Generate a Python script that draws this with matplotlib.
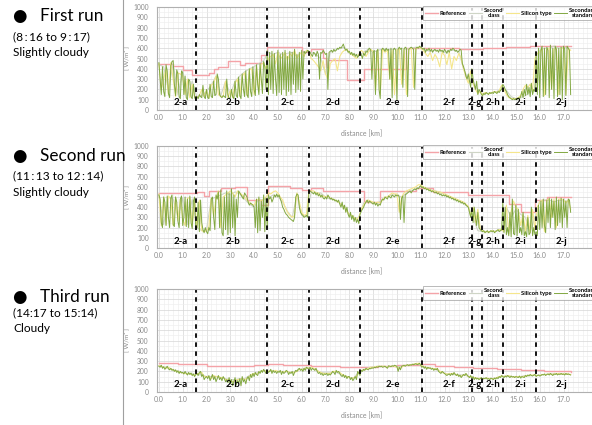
import matplotlib
matplotlib.use("Agg")
import matplotlib.pyplot as plt
import numpy as np
from matplotlib.lines import Line2D
from matplotlib.ticker import MultipleLocator

plt.rcParams['font.family'] = ['Lato', 'DejaVu Sans']

# ---- data (W/m2 against distance in km) ----
# secondary standard pyranometer, every 0.05 km
run1_std = [
    460, 300, 150, 420, 180, 130, 440, 380, 160, 120, 430, 470, 480, 250, 140, 390, 350, 130, 110, 380,
    360, 150, 330, 120, 100, 300, 280, 130, 110, 250, 120, 100, 130, 110, 150, 130, 120, 240, 130, 110,
    200, 120, 110, 250, 130, 120, 280, 140, 150, 350, 300, 150, 130, 120, 140, 130, 120, 300, 150, 110,
    120, 200, 130, 110, 280, 140, 120, 320, 140, 110, 350, 200, 130, 380, 150, 120, 400, 180, 130, 420,
    200, 140, 440, 250, 150, 450, 300, 160, 470, 420, 200, 580, 150, 560, 200, 570, 160, 550, 300, 140,
    580, 170, 540, 150, 560, 200, 580, 140, 520, 180, 570, 150, 560, 250, 590, 170, 540, 200, 560, 180,
    580, 300, 570, 550, 560, 580, 570, 560, 540, 520, 560, 550, 520, 570, 540, 300, 560, 550, 580, 560,
    540, 550, 200, 560, 570, 580, 560, 590, 570, 580, 600, 590, 610, 600, 620, 640, 600, 580, 590, 560,
    570, 540, 560, 530, 550, 520, 540, 510, 530, 560, 540, 500, 550, 530, 570, 560, 590, 600, 580, 300,
    560, 580, 150, 570, 590, 200, 110, 580, 600, 590, 570, 600, 580, 590, 300, 600, 120, 590, 600, 580,
    100, 590, 610, 590, 600, 220, 590, 610, 600, 130, 590, 600, 610, 600, 590, 200, 600, 610, 600, 620,
    610, 600, 590, 600, 560, 590, 580, 600, 570, 590, 560, 580, 590, 570, 580, 560, 590, 570, 580, 560,
    590, 570, 550, 580, 560, 590, 580, 600, 590, 570, 580, 560, 570, 590, 580, 450, 420, 380, 330, 300,
    350, 280, 220, 400, 300, 250, 200, 280, 150, 200, 180, 150, 140, 160, 150, 170, 160, 150, 170, 160,
    170, 160, 180, 170, 160, 180, 170, 190, 200, 250, 230, 200, 180, 150, 130, 120, 110, 100, 110, 100,
    110, 100, 120, 110, 130, 180, 120, 200, 140, 250, 150, 220, 130, 260, 150, 200, 180, 560, 150, 600,
    120, 580, 620, 130, 600, 150, 610, 580, 120, 630, 200, 600, 110, 620, 590, 130, 600, 150, 610, 100,
    620, 590, 140, 620, 600, 580, 150,
]
run2_std = [
    520, 480, 250, 200, 500, 450, 220, 510, 300, 200, 490, 520, 230, 210, 500, 450, 260, 200, 480, 510,
    220, 300, 500, 210, 480, 200, 510, 250, 190, 460, 500, 180, 200, 450, 160, 470, 250, 180, 150, 200,
    160, 140, 200, 170, 480, 500, 300, 180, 520, 480, 550, 200, 570, 150, 120, 500, 180, 560, 130, 540,
    150, 580, 200, 520, 120, 480, 300, 560, 540, 520, 500, 480, 540, 520, 500, 450, 420, 440, 430, 420,
    400, 200, 480, 150, 500, 170, 460, 300, 520, 160, 490, 200, 520, 480, 500, 450, 480, 520, 500, 530,
    500, 520, 480, 450, 400, 380, 350, 330, 320, 300, 290, 280, 270, 260, 300, 500, 530, 520, 400, 350,
    330, 320, 300, 310, 320, 300, 540, 560, 550, 540, 530, 550, 520, 540, 510, 530, 500, 520, 490, 480,
    500, 480, 520, 500, 480, 490, 470, 480, 460, 470, 450, 470, 430, 400, 450, 380, 420, 350, 400, 330,
    300, 350, 280, 320, 260, 300, 250, 280, 240, 330, 360, 380, 400, 430, 450, 470, 440, 460, 450, 440,
    430, 450, 420, 440, 410, 430, 420, 460, 480, 470, 500, 490, 480, 510, 500, 490, 520, 510, 500, 520,
    510, 520, 500, 280, 490, 510, 250, 520, 530, 540, 550, 560, 540, 560, 570, 580, 570, 590, 580, 600,
    610, 590, 600, 580, 590, 570, 580, 560, 570, 550, 560, 550, 540, 550, 530, 540, 520, 530, 510, 520,
    510, 520, 500, 510, 490, 500, 480, 490, 470, 480, 460, 470, 450, 460, 440, 450, 430, 440, 420, 410,
    400, 350, 300, 380, 250, 400, 300, 220, 350, 200, 180, 170, 160, 170, 150, 160, 170, 150, 160, 170,
    160, 170, 150, 160, 170, 180, 160, 170, 180, 450, 150, 400, 130, 200, 120, 350, 110, 480, 140, 130,
    420, 120, 380, 150, 200, 130, 350, 120, 160, 110, 300, 130, 150, 400, 120, 200, 130, 160, 120, 420,
    180, 460, 200, 480, 220, 150, 470, 250, 490, 200, 480, 300, 460, 180, 500, 220, 470, 250, 490, 200,
    480, 300, 460, 200, 480, 470, 350,
]
run3_std = [
    250, 240, 260, 230, 245, 220, 235, 250, 225, 215, 230, 210, 220, 200, 215, 190, 205, 180, 200, 185,
    190, 175, 200, 180, 165, 190, 170, 185, 160, 175, 150, 170, 180, 160, 190, 200, 150, 170, 120, 140,
    150, 130, 160, 110, 140, 170, 120, 150, 100, 130, 160, 120, 140, 110, 150, 130, 100, 120, 90, 140,
    80, 120, 60, 100, 140, 70, 110, 90, 130, 60, 150, 100, 120, 80, 130, 150, 110, 170, 140, 180,
    150, 190, 170, 160, 200, 180, 210, 190, 220, 200, 180, 210, 190, 200, 220, 180, 210, 190, 200, 180,
    200, 190, 210, 170, 200, 180, 190, 210, 200, 170, 190, 180, 200, 160, 190, 210, 200, 220, 230, 210,
    220, 200, 230, 210, 240, 230, 220, 240, 210, 230, 220, 210, 230, 200, 180, 190, 170, 180, 160, 175,
    170, 180, 160, 175, 165, 180, 200, 190, 170, 210, 190, 200, 180, 160, 150, 170, 140, 160, 130, 150,
    150, 120, 140, 110, 130, 150, 120, 200, 180, 160, 210, 200, 220, 210, 230, 220, 215, 230, 225, 235,
    230, 240, 235, 245, 240, 250, 245, 250, 240, 245, 250, 240, 230, 255, 250, 245, 255, 250, 260, 255,
    250, 200, 240, 215, 250, 255, 260, 250, 260, 265, 255, 265, 260, 270, 265, 270, 275, 265, 270, 280,
    260, 240, 250, 230, 245, 220, 240, 230, 235, 220, 230, 210, 225, 215, 230, 200, 190, 180, 200, 190,
    180, 170, 160, 170, 175, 160, 180, 165, 190, 170, 160, 175, 150, 165, 140, 155, 170, 160, 180, 165,
    150, 140, 160, 130, 150, 120, 140, 125, 135, 120, 130, 140, 120, 135, 130, 140, 125, 130, 120, 135,
    130, 120, 135, 125, 140, 130, 150, 140, 160, 150, 140, 155, 145, 160, 150, 140, 155, 145, 150, 140,
    150, 145, 140, 155, 135, 150, 145, 140, 160, 150, 165, 155, 170, 160, 155, 165, 170, 150, 160, 165,
    155, 160, 170, 165, 175, 160, 170, 175, 165, 180, 170, 160, 175, 170, 180, 165, 175, 170, 180, 170,
    175, 165, 180, 170, 175, 170, 165,
]

# silicon type pyranometer, every 0.1 km
run1_si = [
    450, 200, 300, 400, 150, 460, 300, 130, 360, 350, 330, 150, 300, 120, 250, 130, 120, 140, 200, 130,
    190, 120, 240, 260, 330, 150, 130, 130, 280, 120, 190, 120, 260, 300, 130, 330, 360, 140, 390, 400,
    150, 430, 180, 440, 460, 400, 500, 520, 540, 450, 560, 500, 520, 560, 480, 550, 520, 580, 500, 540,
    560, 520, 580, 570, 500, 480, 450, 420, 380, 480, 350, 300, 450, 480, 500, 380, 520, 560, 580, 590,
    560, 540, 520, 500, 540, 580, 560, 520, 560, 590, 570, 180, 580, 150, 590, 560, 580, 300, 580, 150,
    580, 600, 250, 590, 150, 590, 600, 220, 600, 610, 600, 580, 550, 520, 560, 480, 540, 500, 420, 560,
    530, 440, 560, 400, 520, 480, 550, 500, 400, 320, 260, 380, 260, 200, 160, 180, 150, 170, 160, 160,
    170, 180, 170, 190, 240, 200, 150, 120, 110, 110, 110, 120, 140, 200, 240, 220, 250, 190, 500, 550,
    560, 600, 140, 590, 600, 200, 590, 600, 150, 600, 600, 150, 600, 580,
]
run2_si = [
    530, 220, 500, 230, 510, 480, 220, 500, 270, 480, 280, 220, 490, 490, 210, 460, 200, 470, 170, 160,
    170, 210, 490, 310, 490, 560, 200, 500, 520, 540, 560, 540, 500, 560, 540, 520, 500, 470, 450, 430,
    420, 470, 480, 460, 480, 500, 540, 530, 550, 560, 540, 500, 470, 400, 350, 320, 300, 320, 540, 450,
    350, 320, 330, 550, 560, 560, 540, 540, 500, 510, 500, 510, 490, 480, 470, 460, 440, 420, 400, 360,
    330, 320, 300, 280, 300, 380, 420, 460, 470, 460, 450, 440, 450, 440, 470, 500, 500, 520, 540, 530,
    530, 350, 500, 540, 560, 570, 580, 590, 600, 620, 620, 600, 590, 580, 570, 560, 560, 550, 550, 540,
    530, 520, 510, 500, 490, 480, 470, 460, 450, 430, 410, 320, 400, 250, 380, 190, 170, 160, 160, 160,
    170, 160, 170, 180, 180, 160, 420, 140, 360, 460, 400, 380, 220, 330, 160, 320, 150, 380, 180, 400,
    450, 470, 160, 470, 480, 300, 480, 200, 480, 480, 470, 440, 470, 380,
]
run3_si = [
    255, 250, 240, 230, 240, 225, 215, 205, 200, 190, 185, 180, 175, 180, 165, 165, 175, 180, 190, 150,
    150, 150, 130, 160, 150, 150, 140, 140, 120, 120, 110, 100, 110, 120, 120, 130, 120, 130, 150, 170,
    180, 170, 190, 200, 210, 200, 200, 210, 200, 210, 200, 200, 190, 200, 200, 190, 190, 190, 200, 220,
    220, 220, 240, 230, 240, 230, 220, 200, 190, 180, 180, 180, 180, 200, 200, 200, 190, 170, 160, 150,
    140, 130, 140, 150, 190, 210, 215, 220, 230, 240, 240, 245, 250, 250, 250, 250, 240, 250, 250, 250,
    240, 230, 240, 255, 260, 260, 265, 270, 275, 280, 265, 250, 240, 235, 230, 230, 225, 225, 200, 195,
    180, 175, 175, 180, 180, 170, 160, 155, 165, 175, 150, 150, 140, 140, 130, 135, 130, 130, 135, 130,
    130, 130, 140, 150, 155, 150, 155, 160, 150, 145, 150, 150, 145, 150, 155, 160, 165, 165, 165, 160,
    160, 170, 170, 170, 175, 170, 175, 175, 180, 175, 175, 175, 175, 170,
]

# second class pyranometer, every 0.2 km
run1_2nd = [
    440, 420, 200, 450, 150, 380, 140, 280, 120, 140, 180, 240, 330, 140, 280, 150, 280, 330, 370, 400,
    420, 450, 480, 560, 540, 560, 540, 550, 560, 520, 560, 570, 560, 540, 500, 350, 560, 580, 600, 610,
    550, 540, 530, 560, 590, 560, 580, 590, 580, 590, 590, 600, 590, 600, 610, 600, 580, 570, 580, 580,
    560, 580, 580, 570, 400, 300, 250, 200, 160, 160, 170, 180, 200, 190, 130, 110, 120, 140, 180, 200,
    580, 600, 600, 620, 600, 610, 600,
]
run2_2nd = [
    520, 230, 500, 480, 300, 490, 230, 480, 200, 170, 180, 480, 500, 520, 540, 520, 550, 530, 480, 430,
    400, 480, 470, 490, 520, 510, 450, 360, 300, 520, 320, 310, 550, 540, 540, 500, 480, 470, 440, 400,
    320, 290, 300, 440, 460, 440, 440, 480, 500, 520, 520, 500, 540, 560, 580, 600, 590, 570, 560, 550,
    520, 500, 480, 460, 440, 400, 300, 170, 160, 160, 160, 170, 170, 400, 300, 380, 330, 300, 160, 300,
    460, 470, 470, 450, 470, 460, 460,
]
run3_2nd = [
    255, 245, 235, 215, 205, 190, 180, 175, 170, 165, 150, 150, 150, 140, 130, 120, 120, 130, 130, 160,
    180, 190, 210, 200, 200, 200, 200, 195, 190, 210, 225, 235, 235, 215, 190, 185, 185, 195, 175, 155,
    140, 140, 195, 215, 235, 245, 250, 250, 245, 250, 245, 250, 260, 265, 275, 260, 240, 230, 225, 200,
    180, 175, 175, 160, 170, 150, 140, 130, 130, 130, 130, 140, 150, 155, 150, 150, 150, 160, 160, 160,
    165, 170, 175, 175, 175, 175, 175,
]

# reference irradiance, step changes
run1_ref_km = [0.0, 0.6, 1.0, 1.4, 2.1, 2.3, 2.5, 2.9, 3.4, 3.6, 4.3, 4.55, 6.0, 6.4, 6.9, 7.0, 7.1, 7.9, 8.6, 10.4, 12.6, 13.6, 14.6, 15.6, 17.3]
run1_ref_w = [450, 430, 390, 340, 360, 400, 420, 480, 440, 460, 530, 610, 560, 590, 500, 420, 490, 290, 400, 600, 590, 600, 610, 620, 620]
run2_ref_km = [0.0, 1.6, 1.9, 2.1, 2.6, 3.2, 3.7, 4.3, 4.6, 5.5, 6.0, 6.4, 6.9, 8.6, 9.3, 10.8, 11.5, 13.0, 14.7, 15.2, 15.8, 16.3, 17.3]
run2_ref_w = [540, 550, 510, 560, 590, 600, 470, 420, 610, 590, 570, 590, 560, 450, 560, 590, 550, 520, 430, 350, 470, 500, 500]
run3_ref_km = [0.0, 0.8, 1.6, 2.0, 4.0, 4.6, 5.2, 6.4, 7.6, 8.4, 9.2, 10.0, 10.6, 11.0, 11.6, 12.4, 13.2, 14.2, 15.2, 16.2, 17.3]
run3_ref_w = [280, 275, 270, 255, 265, 270, 262, 250, 245, 238, 248, 258, 265, 272, 255, 240, 230, 222, 210, 200, 198]

# section boundaries and section names
bounds_km = [1.55, 4.54, 6.3, 8.43, 11.05, 13.15, 13.57, 14.45, 15.84]
sect_names = ['2-a', '2-b', '2-c', '2-d', '2-e', '2-f', '2-g', '2-h', '2-i', '2-j']
sect_km = [0.9, 3.1, 5.4, 7.3, 9.85, 12.2, 13.27, 14.05, 15.2, 16.9]

run_titles = ['First run', 'Second run', 'Third run']
run_times = ['(8\u2009:\u200916 to 9\u2009:\u200917)', '(11\u2009:\u200913 to 12\u2009:\u200914)', '(14:17 to 15:14)']
run_sky = ['Slightly cloudy', 'Slightly cloudy', 'Cloudy']

W, H = 592, 425
fig = plt.figure(figsize=(W / 100, H / 100), dpi=100)

# plot-area pixel boxes (top, bottom) and text rows for each run
boxes = [(7, 110), (146, 248), (289, 392)]
text_rows = [(16, 37, 53), (156, 176, 193), (297, 313, 328)]
legend_top = [3, 142, 283]

c_ref = '#f4a3a8'
c_2nd = '#cfd5c6'
c_si = '#f5e68c'
c_std = '#82a842'
grey = '#8a8a8a'

runs = [
    (run1_std, run1_si, run1_2nd, run1_ref_km, run1_ref_w),
    (run2_std, run2_si, run2_2nd, run2_ref_km, run2_ref_w),
    (run3_std, run3_si, run3_2nd, run3_ref_km, run3_ref_w),
]

x_left, x_right = 157, 600
km0 = -0.08
px_per_km = 23.8
km1 = km0 + (x_right - x_left) / px_per_km

for i, (std, si, sec, rkm, rw) in enumerate(runs):
    top, bot = boxes[i]
    ax = fig.add_axes([x_left / W, 1 - bot / H, (x_right - x_left) / W, (bot - top) / H])
    ax.set_xlim(km0, km1)
    ax.set_ylim(0, 1000)

    ax.xaxis.set_minor_locator(MultipleLocator(0.2))
    ax.yaxis.set_major_locator(MultipleLocator(100))
    ax.yaxis.set_minor_locator(MultipleLocator(50))
    ax.grid(which='major', color='#d6d6d6', lw=0.5)
    ax.grid(which='minor', color='#ededed', lw=0.4)
    ax.set_axisbelow(True)
    ax.set_xticks(np.arange(0, 17.5, 1.0))
    ax.set_xticklabels(['%.1f' % v for v in np.arange(0, 17.5, 1.0)])
    ax.tick_params(which='both', length=0, colors=grey, labelsize=5)
    ax.tick_params(axis='y', pad=6, labelsize=4.8)
    ax.tick_params(axis='x', pad=3)
    for s in ax.spines.values():
        s.set_color('#b0b0b0')
        s.set_linewidth(0.8)

    ax.plot(rkm, rw, color=c_ref, lw=1.0, drawstyle='steps-post', label='Reference')
    ax.plot(np.arange(len(sec)) * 0.2, sec, color=c_2nd, lw=0.8, label='Second\nclass')
    ax.plot(np.arange(len(si)) * 0.1, si, color=c_si, lw=0.8, label='Silicon type')
    ax.plot(np.arange(len(std)) * 0.05, std, color=c_std, lw=0.7, label='Secondary\nstandard')

    for b in bounds_km:
        ax.axvline(b, color='black', lw=1.3, ls=(0, (2.5, 2.5)))
    for name, xk in zip(sect_names, sect_km):
        ax.text(xk, 68, name, ha='center', va='center', fontsize=7, fontweight='bold', color='black')

    ax.set_ylabel('[ W/m\u00b2 ]', fontsize=4.5, color=grey, labelpad=3)
    ax.set_xlabel('distance [km]', fontsize=5, color=grey, labelpad=2)
    ax.xaxis.set_label_coords((362 - x_left) / (x_right - x_left), -0.19)

    leg = ax.legend(loc='upper left', ncol=4, fontsize=4.2, frameon=True, fancybox=False,
                    handlelength=2.2, handletextpad=0.4, columnspacing=0.4, borderpad=0.3,
                    bbox_to_anchor=(420 / W, 1 - legend_top[i] / H), bbox_transform=fig.transFigure)
    leg.get_frame().set_edgecolor('#9a9a9a')
    leg.get_frame().set_linewidth(0.6)
    for t in leg.get_texts():
        t.set_fontweight('bold')
        t.set_ha('center')

    r1, r2, r3 = text_rows[i]
    fig.text(19 / W, 1 - r1 / H, '\u25cf', fontsize=12, ha='center', va='center', family='DejaVu Sans')
    fig.text(40 / W, 1 - r1 / H, run_titles[i], fontsize=12.3, va='center')
    fig.text(13 / W, 1 - r2 / H, run_times[i], fontsize=8.6, va='center')
    fig.text(13 / W, 1 - r3 / H, run_sky[i], fontsize=8.6, va='center')

fig.add_artist(Line2D([123 / W, 123 / W], [0, 1], transform=fig.transFigure, color='#a0a0a0', lw=0.8))

fig.savefig('out.png', dpi=100)
